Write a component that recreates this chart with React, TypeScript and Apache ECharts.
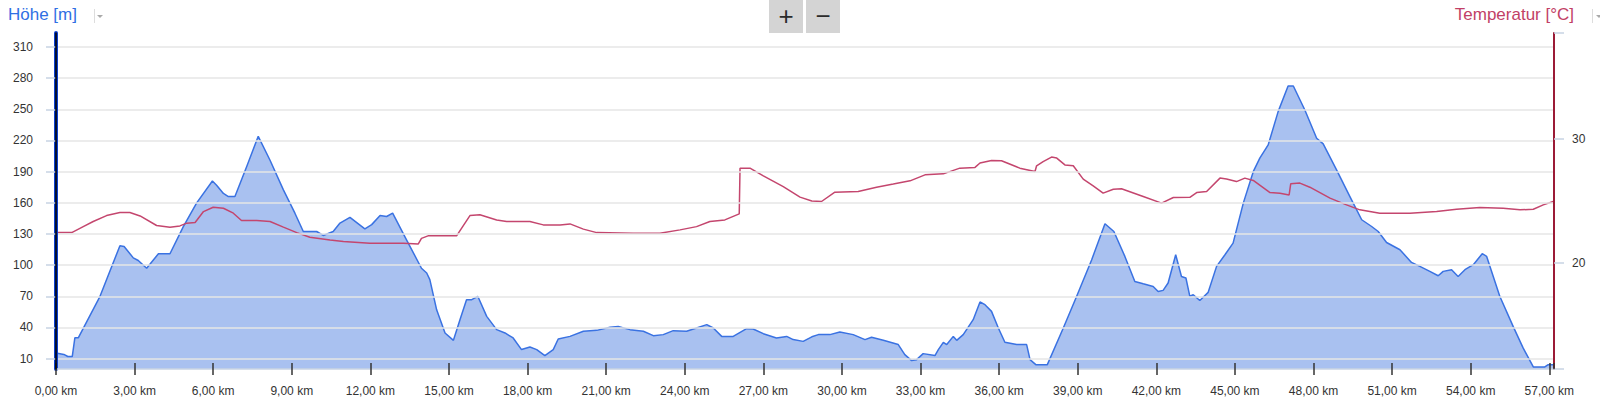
import React, { useEffect, useRef } from "react";
import * as echarts from "echarts";

// Elevation profile (distance in km, elevation in m)
const elevationKm = [
  0.0, 0.3, 0.45, 0.62, 0.72, 0.85, 1.68, 2.44, 2.6, 2.95, 3.14, 3.46, 3.91, 4.35, 4.86, 5.37, 5.97, 6.13, 6.39, 6.58,
  6.83, 7.28, 7.72, 8.17, 8.68, 9.12, 9.44, 9.95, 10.2, 10.58, 10.84, 11.22, 11.48, 11.79, 12.05, 12.37, 12.62, 12.85,
  13.38, 13.95, 14.15, 14.27, 14.53, 14.85, 15.17, 15.42, 15.67, 15.87, 16.1, 16.44, 16.82, 17.14, 17.45, 17.77, 18.09,
  18.35, 18.66, 18.98, 19.17, 19.62, 20.13, 20.64, 21.15, 21.46, 21.91, 22.42, 22.8, 23.18, 23.56, 24.07, 24.45, 24.84,
  25.09, 25.41, 25.85, 26.36, 26.61, 27.0, 27.5, 27.89, 28.14, 28.52, 28.85, 29.1, 29.54, 29.92, 30.43, 30.88, 31.13,
  31.58, 32.15, 32.4, 32.66, 32.85, 33.1, 33.55, 33.68, 33.87, 34.0, 34.25, 34.38, 34.63, 35.01, 35.27, 35.46, 35.71,
  35.97, 36.22, 36.67, 37.05, 37.18, 37.4, 37.84, 38.45, 38.96, 39.53, 40.04, 40.38, 40.8, 41.18, 41.5, 41.88, 42.07,
  42.26, 42.45, 42.74, 42.96, 43.13, 43.28, 43.41, 43.66, 43.98, 44.3, 44.62, 44.93, 45.32, 45.7, 45.95, 46.27, 46.65,
  47.03, 47.23, 47.67, 48.12, 48.37, 48.88, 49.39, 49.84, 50.22, 50.47, 50.79, 51.3, 51.74, 52.06, 52.44, 52.76, 52.95,
  53.27, 53.52, 53.78, 54.1, 54.44, 54.61, 55.11, 55.62, 56.0, 56.39, 56.83, 56.96, 57.15,
];
const elevationM = [
  15.5, 14, 12, 12, 30, 30, 70, 118.7, 118, 107, 104.5, 97, 111, 111, 137, 160, 181, 177, 169, 166,
  166, 195, 224, 201, 172.5, 150, 132.4, 132.4, 128.6, 132.4, 140.5, 146, 141, 135, 139, 147.8, 146.8, 150,
  124.4, 97, 92.4, 86, 57, 34.7, 27.6, 47.5, 66.7, 66.7, 70, 50.7, 37.9, 34.7, 29.9, 18.7, 21.2,
  18.7, 12.9, 18.7, 28.9, 31.4, 36.3, 37.2, 40.1, 41, 37.9, 36.3, 32.1, 33.1, 36.9, 36.3, 39.5, 42.7,
  39.5, 31.4, 31.4, 38.8, 38.5, 34, 29.9, 31.4, 28.3, 26.6, 31, 33.1, 33.1, 35.7, 33.1, 28.3, 30.5,
  27.6, 23.5, 13.8, 8.1, 9, 14.8, 12.9, 18.7, 25.7, 23.5, 31.4, 27.6, 33.1, 47.5, 64.5, 61.9, 55.5,
  39.5, 25.7, 23.5, 23.5, 9, 4.2, 4.2, 39.5, 70, 105, 139.8, 132.4, 108.4, 84.3, 82, 79.5, 74.7,
  75.7, 82.8, 110, 89, 87.6, 70, 71.5, 66, 73.8, 98.8, 110, 121.2, 159.7, 190, 203, 215.8, 247.8,
  272.5, 272.5, 249.4, 222.2, 216.7, 191.7, 166, 143.7, 137.2, 132.4, 121.8, 114.8, 102.6, 98.8, 94, 89.8, 94,
  95.6, 89.1, 95.6, 100.4, 111, 108.4, 70, 41, 20.3, 2, 2, 4.2, 4.2,
];

// Temperature (distance in km, °C)
const temperatureKm = [
  0.0, 0.6, 1.04, 1.42, 1.93, 2.44, 2.82, 3.21, 3.84, 4.35, 4.73, 4.99, 5.31, 5.63, 6.0, 6.39, 6.77, 7.08, 7.66, 8.17,
  8.68, 9.19, 9.69, 10.46, 10.97, 11.98, 13.26, 13.83, 13.95, 14.2, 15.29, 15.8, 16.18, 16.82, 17.2, 18.09, 18.6, 19.24,
  19.62, 20.13, 20.64, 22.03, 23.05, 23.82, 24.45, 24.96, 25.53, 26.08, 26.11, 26.49, 27.0, 27.76, 28.4, 28.85, 29.22,
  29.73, 30.62, 31.32, 31.96, 32.6, 33.17, 33.87, 34.5, 35.08, 35.27, 35.71, 36.09, 36.79, 37.37, 37.43, 37.68, 38.0,
  38.2, 38.51, 38.83, 39.21, 39.59, 39.97, 40.36, 40.67, 41.5, 42.2, 42.65, 43.28, 43.54, 43.92, 44.43, 44.68, 45.06,
  45.38, 45.7, 46.34, 46.72, 47.07, 47.13, 47.48, 47.86, 48.63, 49.26, 49.77, 50.53, 51.68, 52.7, 53.46, 54.35, 55.24,
  55.88, 56.39, 56.77, 57.15,
];
const temperatureC = [
  22.46, 22.46, 22.94, 23.35, 23.83, 24.07, 24.07, 23.8, 23.03, 22.9, 23.0, 23.22, 23.27, 24.15, 24.5, 24.42, 24.02, 23.43, 23.43, 23.35,
  22.9, 22.46, 22.09, 21.87, 21.74, 21.6, 21.6, 21.55, 22.0, 22.2, 22.2, 23.83, 23.89, 23.48, 23.35, 23.35, 23.08, 23.08,
  23.16, 22.74, 22.46, 22.41, 22.41, 22.68, 22.94, 23.35, 23.48, 23.97, 27.64, 27.64, 27.02, 26.16, 25.31, 25.0, 24.96,
  25.71, 25.76, 26.11, 26.36, 26.62, 27.1, 27.18, 27.64, 27.7, 28.05, 28.25, 28.23, 27.64, 27.37, 27.83, 28.17, 28.53,
  28.45, 27.9, 27.83, 26.76, 26.22, 25.63, 25.95, 25.98, 25.36, 24.83, 25.28, 25.3, 25.68, 25.76, 26.84, 26.76, 26.56,
  26.84, 26.65, 25.68, 25.63, 25.49, 26.38, 26.44, 26.11, 25.23, 24.69, 24.29, 24.02, 24.02, 24.15, 24.34, 24.47, 24.42,
  24.29, 24.34, 24.69, 24.96,
];

const elevationTicks = [10, 40, 70, 100, 130, 160, 190, 220, 250, 280, 310];
const temperatureLabels = [20, 30];
const temperatureTicks = [11.5, 20, 30, 38.5];
const distanceStepKm = 3;
const distanceMaxKm = 57.18;

const FONT = "'Liberation Sans', Arial, sans-serif";

export default function App() {
  const ref = useRef<HTMLDivElement>(null);

  useEffect(() => {
    const chart = echarts.init(ref.current!, null, { renderer: "svg" });
    const kmFormatter = (v: number) => v.toFixed(2).replace(".", ",") + " km";

    chart.setOption({
      animation: false,
      backgroundColor: "#ffffff",
      title: [
        {
          text: "Höhe [m]",
          left: 8,
          top: 6,
          padding: 0,
          textStyle: { color: "#2f6fe4", fontSize: 17, fontWeight: "normal", fontFamily: FONT },
        },
        {
          text: "Temperatur [°C]",
          right: 26,
          top: 6,
          padding: 0,
          textStyle: { color: "#c23f66", fontSize: 17, fontWeight: "normal", fontFamily: FONT },
        },
      ],
      grid: { left: 56, right: 46, top: 33, bottom: 32, containLabel: false },
      xAxis: [
        {
          type: "value",
          min: 0,
          max: distanceMaxKm,
          interval: distanceStepKm,
          axisLine: { show: true, onZero: false, lineStyle: { color: "#c8d3e3", width: 1.5 } },
          axisTick: { show: true, length: 6, lineStyle: { color: "#333333", width: 1.5 } },
          axisLabel: { formatter: kmFormatter, color: "#333333", fontSize: 12, margin: 16, fontFamily: FONT },
          splitLine: { show: false },
          z: 5,
        },
        {
          type: "value",
          min: 0,
          max: distanceMaxKm,
          interval: distanceStepKm,
          position: "bottom",
          axisLine: { show: false, onZero: false },
          axisTick: { show: true, inside: true, length: 6, lineStyle: { color: "#333333", width: 1.5 } },
          axisLabel: { show: false },
          splitLine: { show: false },
          z: 5,
        },
      ],
      yAxis: [
        {
          type: "value",
          min: 0,
          max: 323.5,
          position: "left",
          axisLine: { show: true, onZero: false, lineStyle: { color: "#0b3fd0", width: 4 } },
          axisTick: { show: true, length: 10, customValues: elevationTicks, lineStyle: { color: "#c7d3e3", width: 1.5 } },
          axisLabel: { customValues: elevationTicks, color: "#333333", fontSize: 12, margin: 23, fontFamily: FONT },
          splitLine: { show: true, lineStyle: { color: "#e6e6e6", width: 1.5 } },
          z: 5,
        },
        {
          type: "value",
          min: 11.5,
          max: 38.5,
          position: "right",
          axisLine: { show: true, onZero: false, lineStyle: { color: "#9b1b36", width: 2 } },
          axisTick: { show: true, length: 10, customValues: temperatureTicks, lineStyle: { color: "#c7d3e3", width: 1.5 } },
          axisLabel: { customValues: temperatureLabels, color: "#333333", fontSize: 12, margin: 18, fontFamily: FONT },
          splitLine: { show: false },
          z: 5,
        },
        {
          type: "value",
          min: 0,
          max: 1,
          position: "left",
          axisLine: { show: true, onZero: false, lineStyle: { color: "#000000", width: 1.5 } },
          axisTick: { show: false },
          axisLabel: { show: false },
          splitLine: { show: false },
          z: 6,
        },
      ],
      series: [
        {
          type: "line",
          name: "Höhe",
          xAxisIndex: 0,
          yAxisIndex: 0,
          data: elevationKm.map((k, i) => [k, elevationM[i]]),
          symbol: "none",
          showSymbol: false,
          lineStyle: { color: "#3a72e2", width: 1.5 },
          areaStyle: { color: "rgba(64,117,222,0.45)", opacity: 1, origin: "start" },
          z: 2,
        },
        {
          type: "line",
          name: "Temperatur",
          xAxisIndex: 0,
          yAxisIndex: 1,
          data: temperatureKm.map((k, i) => [k, temperatureC[i]]),
          symbol: "none",
          showSymbol: false,
          lineStyle: { color: "#c4466e", width: 1.5 },
          z: 3,
        },
      ],
      graphic: [
        { type: "line", shape: { x1: 94.5, y1: 9, x2: 94.5, y2: 23 }, style: { stroke: "#dddddd", lineWidth: 1 } },
        { type: "polygon", shape: { points: [[97, 15], [103, 15], [100, 18]] }, style: { fill: "#aaaaaa" } },
        { type: "line", shape: { x1: 1592.5, y1: 9, x2: 1592.5, y2: 23 }, style: { stroke: "#dddddd", lineWidth: 1 } },
        { type: "polygon", shape: { points: [[1596, 15], [1602, 15], [1599, 18]] }, style: { fill: "#aaaaaa" } },
        { type: "rect", shape: { x: 769, y: 0, width: 34, height: 33 }, style: { fill: "#d4d4d4" } },
        { type: "rect", shape: { x: 806, y: 0, width: 34, height: 33 }, style: { fill: "#d4d4d4" } },
        {
          type: "text",
          x: 786,
          y: 16,
          style: {
            text: "+",
            fill: "#2b2b2b",
            font: "26px " + FONT,
            align: "center",
            verticalAlign: "middle",
            textAlign: "center",
            textVerticalAlign: "middle",
          },
        },
        {
          type: "text",
          x: 823,
          y: 16,
          style: {
            text: "−",
            fill: "#2b2b2b",
            font: "26px " + FONT,
            align: "center",
            verticalAlign: "middle",
            textAlign: "center",
            textVerticalAlign: "middle",
          },
        },
      ],
    });

    return () => chart.dispose();
  }, []);

  return <div ref={ref} style={{ position: "fixed", left: 0, top: 0, width: 1600, height: 401 }} />;
}
